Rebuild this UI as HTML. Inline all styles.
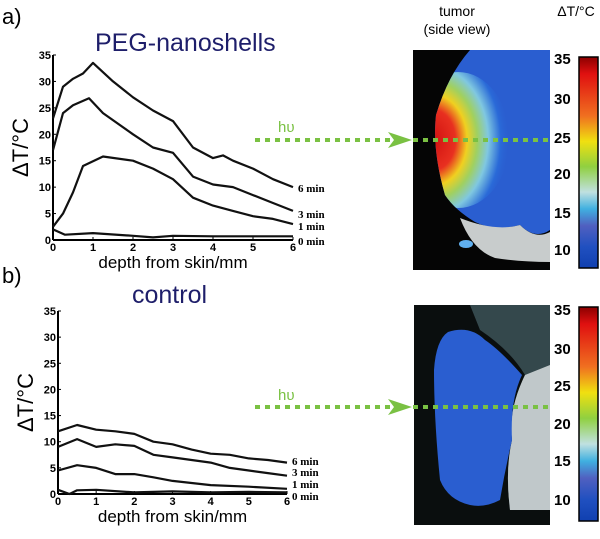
<!DOCTYPE html>
<html><head><meta charset="utf-8"><style>
body{margin:0;background:#fff;width:600px;height:534px;overflow:hidden;font-family:"Liberation Sans",sans-serif}
</style></head><body>
<svg width="600" height="534" xmlns="http://www.w3.org/2000/svg">
<defs>
<linearGradient id="jet" x1="0" y1="0" x2="0" y2="1">
<stop offset="0" stop-color="#8b0000"/><stop offset="0.08" stop-color="#e01010"/><stop offset="0.28" stop-color="#f07020"/><stop offset="0.4" stop-color="#f0e010"/><stop offset="0.52" stop-color="#90d040"/><stop offset="0.64" stop-color="#c0e0e0"/><stop offset="0.72" stop-color="#40b0e0"/><stop offset="0.8" stop-color="#5060c0"/><stop offset="0.9" stop-color="#2050c0"/><stop offset="1" stop-color="#1040b0"/></linearGradient>
<radialGradient id="hot" cx="0.25" cy="0.5" r="0.75">
<stop offset="0" stop-color="#d01010"/><stop offset="0.3" stop-color="#e83020"/><stop offset="0.45" stop-color="#f0d020"/><stop offset="0.58" stop-color="#a0d060"/><stop offset="0.72" stop-color="#80c8e0"/><stop offset="0.88" stop-color="#2a6ad8"/><stop offset="1" stop-color="#2a5ed0" stop-opacity="0"/></radialGradient>
<clipPath id="tumorA"><path d="M470,50 L550,50 L550,230 Q535,240 520,225 Q495,232 475,222 Q455,210 445,195 Q432,150 436,115 Q448,75 470,50Z"/></clipPath>
</defs>
<text x="2" y="24" font-size="22">a)</text>
<text x="95" y="51" font-size="25" fill="#1e1e6a">PEG-nanoshells</text>
<text x="2" y="283" font-size="22">b)</text>
<text x="132" y="303" font-size="25" fill="#1e1e6a">control</text>
<text x="457" y="16" font-size="14" text-anchor="middle">tumor</text>
<text x="457" y="34" font-size="14" text-anchor="middle">(side view)</text>
<text x="576" y="16" font-size="14" text-anchor="middle">ΔT/°C</text>
<g id="charts"></g>
<g>
<rect x="413" y="50" width="137" height="220" fill="#050505"/>
<path d="M470,50 L550,50 L550,230 Q535,240 520,225 Q495,232 475,222 Q455,210 445,195 Q432,150 436,115 Q448,75 470,50Z" fill="#2a5ed0"/>
<path d="M460,218 Q495,232 520,225 Q535,240 550,232 L550,262 Q520,262 495,258 Q472,250 460,218Z" fill="#c8cccc"/>
<ellipse cx="458" cy="140" rx="52" ry="68" fill="url(#hot)" clip-path="url(#tumorA)"/>
<ellipse cx="466" cy="244" rx="7" ry="4" fill="#60b0f0"/>
</g>
<g>
<rect x="414" y="305" width="136" height="220" fill="#0a0e0e"/>
<path d="M470,305 L550,305 L550,510 L510,510 Q505,470 512,440 Q508,410 525,375 Q510,350 480,330 Z" fill="#34484c"/>
<path d="M525,375 Q508,410 512,440 Q505,470 510,510 L550,510 L550,365 Z" fill="#c0c8ca"/>
<path d="M448,332 Q470,325 485,340 Q500,350 522,375 Q510,400 512,440 Q505,470 500,500 Q485,508 470,505 Q448,500 440,480 Q434,420 434,370 Q436,340 448,332Z" fill="#2a5ed0"/>
</g>
<g><rect x="579" y="57" width="19" height="211" fill="url(#jet)" stroke="#000" stroke-width="1.5"/></g>
<g><rect x="579" y="307" width="19" height="214" fill="url(#jet)" stroke="#000" stroke-width="1.5"/></g>
<g font-size="15" font-weight="bold">
<text x="554" y="64">35</text><text x="554" y="104">30</text><text x="554" y="143">25</text><text x="554" y="179">20</text><text x="554" y="218">15</text><text x="554" y="255">10</text>
<text x="554" y="315">35</text><text x="554" y="354">30</text><text x="554" y="391">25</text><text x="554" y="429">20</text><text x="554" y="466">15</text><text x="554" y="505">10</text>
</g>
<g stroke="#7ac143" stroke-width="4" stroke-dasharray="5,5" fill="none">
<line x1="255" y1="140" x2="395" y2="140"/><line x1="413" y1="140" x2="550" y2="140"/>
<line x1="255" y1="407" x2="395" y2="407"/><line x1="413" y1="407" x2="550" y2="407"/>
</g>
<path d="M388,132 L412,140 L388,148 L394,140Z M388,399 L412,407 L388,415 L394,407Z" fill="#7ac143"/>
<text x="278" y="132" font-size="15" fill="#7ac143">hυ</text>
<text x="278" y="400" font-size="15" fill="#7ac143">hυ</text>
</svg>
<script>
const yTicks=[0,5,10,15,20,25,30,35];
const xTicks=[0,1,2,3,4,5,6];
const seriesNames=["6 min","3 min","1 min","0 min"];
const aX6=[0,0.25,0.5,0.75,1,1.5,2,2.5,3,3.5,4,4.25,4.5,5,5.5,6];
const aY6=[23,29,30.5,31.5,33.5,30,27,24.5,22.5,17.5,15.5,16,15,13.5,11.5,10];
const aX3=[0,0.25,0.5,0.9,1.25,2,2.5,3,3.5,4,4.5,5,5.5,6];
const aY3=[17,24,25.5,26.8,24,20,17.5,16.5,12,10.5,10,8.5,7,5.5];
const aX1=[0,0.25,0.5,0.75,1.25,2,2.5,3,3.5,4,4.5,5,5.5,6];
const aY1=[2.5,5,9,14,15.8,15,13.5,11.5,8,6.5,5.5,4.5,4,3];
const aX0=[0,0.3,1,2,2.5,3,4,5,6];
const aY0=[2,1,1.3,0.8,0.5,0.8,0.7,0.7,0.7];
const bX6=[0,0.5,1,1.5,2,2.5,3,3.5,4,4.5,5,5.5,6];
const bY6=[12,13.2,12.3,12,11.5,10,9.5,8.5,7.7,7.5,6.8,6.5,6];
const bX3=[0,0.5,1,1.5,2,2.5,3,3.5,4,4.5,5,5.5,6];
const bY3=[9,10.5,9,9.5,9.2,7.5,7,6.5,6,5,4.5,4,3.5];
const bX1=[0,0.5,1,1.5,2,2.5,3,4,5,6];
const bY1=[4.5,5.5,5,3.8,3.8,3.2,2.5,1.7,1.4,1];
const bX0=[0,0.3,0.5,1,2,3,4,5,6];
const bY0=[0.8,0,0.7,0.8,0.3,0.5,0.3,0.4,0.3];
const NS="http://www.w3.org/2000/svg";
const g=document.getElementById('charts');
function mk(t,a,p){const e=document.createElementNS(NS,t);for(const k in a)e.setAttribute(k,a[k]);(p||g).appendChild(e);return e;}
function chart(x0,x6,y0,y35,series,labelYs,name){
  const sx=v=>x0+(x6-x0)*v/6, sy=v=>y0-(y0-y35)*v/35;
  const grp=mk('g',{});
  
  
  mk('line',{x1:x0,y1:y0,x2:x6,y2:y0,stroke:'#000','stroke-width':2},grp);
  mk('line',{x1:x0,y1:y0,x2:x0,y2:y35,stroke:'#000','stroke-width':2},grp);
  yTicks.forEach(v=>{mk('line',{x1:x0,y1:sy(v),x2:x0+3,y2:sy(v),stroke:'#000'},grp);
    const t=mk('text',{x:x0-2,y:sy(v)+4,'font-size':11,'font-weight':'bold','text-anchor':'end'},grp);t.textContent=v;
    
    });
  xTicks.forEach(v=>{mk('line',{x1:sx(v),y1:y0,x2:sx(v),y2:y0-3,stroke:'#000'},grp);
    const t=mk('text',{x:sx(v),y:y0+11,'font-size':11,'font-weight':'bold','text-anchor':'middle'},grp);t.textContent=v;
    
    });
  const xl=mk('text',{x:(x0+x6)/2,y:y0+28,'font-size':17,'text-anchor':'middle'},grp);xl.textContent='depth from skin/mm';
  
  
  const yl=mk('text',{x:0,y:0,'font-size':22,'text-anchor':'middle',transform:`translate(${x0-25},${(y0+y35)/2}) rotate(-90)`},grp);yl.textContent='ΔT/°C';
  
  
  series.forEach((s,i)=>{
    const d=s[0].map((x,j)=>(j?'L':'M')+sx(x).toFixed(1)+','+sy(s[1][j]).toFixed(1)).join(' ');
    const p=mk('path',{d:d,fill:'none',stroke:'#111','stroke-width':2.2,'stroke-linejoin':'round'},grp);
    
    
    const t=mk('text',{x:x6+5,y:labelYs[i],'font-size':11,'font-weight':'bold','font-family':'Liberation Serif,serif'},grp);t.textContent=seriesNames[i];
    
    
  });
}
chart(53,293,240,55,[[aX6,aY6],[aX3,aY3],[aX1,aY1],[aX0,aY0]],[192,218,230,245],'chart-a');
chart(58,287,494,311,[[bX6,bY6],[bX3,bY3],[bX1,bY1],[bX0,bY0]],[465,476,488,500],'chart-b');
</script>
</body></html>
